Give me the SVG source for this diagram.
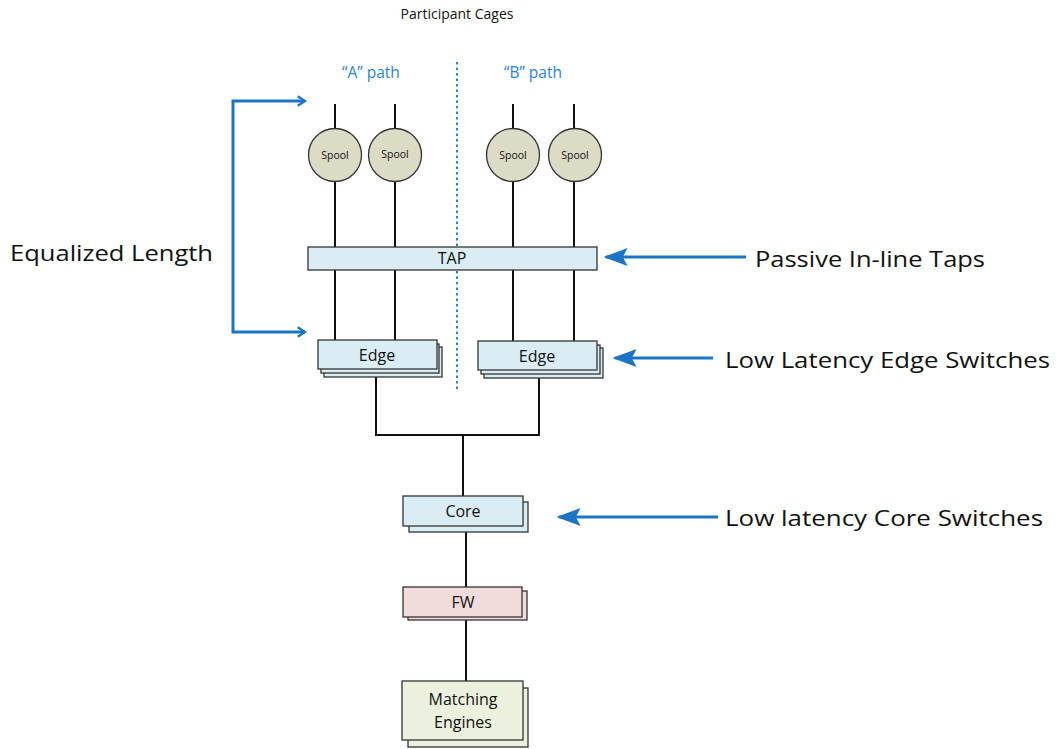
<svg xmlns="http://www.w3.org/2000/svg" width="1058" height="749" viewBox="0 0 1058 749">
<defs>
<marker id="tri" viewBox="0 0 10 10" refX="9" refY="5" markerWidth="8" markerHeight="6" orient="auto-start-reverse" markerUnits="strokeWidth" preserveAspectRatio="none"><path d="M0,0 L10,5 L0,10 L2,5 z" fill="#1b74c5"/></marker>
<marker id="chev" viewBox="0 0 10 10" refX="8" refY="5" markerWidth="4" markerHeight="4" orient="auto-start-reverse" markerUnits="strokeWidth"><path d="M2,1 L8,5 L2,9" fill="none" stroke="#1b74c5" stroke-width="2"/></marker>
</defs>
<style>
text{font-family:"Open Sans","Liberation Sans",sans-serif;fill:#111}
.ln{stroke:#111;stroke-width:2;fill:none}
.box{stroke:#333;stroke-width:1.3}
.blue{fill:#daedf4}
.red{fill:#f2dcdb}
.grn{fill:#ebf1de}
.spool{fill:#dcdcc6;stroke:#333;stroke-width:1.3}
.lbl{font-size:16px;text-anchor:middle}
.big{font-size:22px}
.bl{stroke:#1b74c5;stroke-width:3;fill:none}
.path{fill:#2a84d2;font-size:15.5px;text-anchor:middle}
</style>
<rect width="1058" height="749" fill="#fff"/>
<text x="457" y="19" style="font-size:14px;text-anchor:middle">Participant Cages</text>
<text class="path" x="371" y="78">“A” path</text>
<text class="path" x="533" y="78">“B” path</text>
<line x1="457" y1="62" x2="457" y2="392" stroke="#2a84d2" stroke-width="2" stroke-dasharray="2.5,3"/>

<g id="connectors">
<line class="ln" x1="335" y1="104" x2="335" y2="341"/>
<line class="ln" x1="395" y1="104" x2="395" y2="341"/>
<line class="ln" x1="513" y1="104" x2="513" y2="342"/>
<line class="ln" x1="574" y1="104" x2="574" y2="342"/>
<polyline class="ln" points="376,373 376,435 539,435 539,373"/>
<line class="ln" x1="463" y1="435" x2="463" y2="497"/>
<line class="ln" x1="466" y1="526" x2="466" y2="588"/>
<line class="ln" x1="466" y1="617" x2="466" y2="682"/>
<polyline class="bl" points="305,101 233,101 233,332 305,332" marker-start="url(#chev)" marker-end="url(#chev)"/>
<line class="bl" x1="746" y1="257" x2="606" y2="257" marker-end="url(#tri)"/>
<line class="bl" x1="713" y1="358" x2="615" y2="358" marker-end="url(#tri)"/>
<line class="bl" x1="718" y1="517" x2="559" y2="517" marker-end="url(#tri)"/>
</g>

<g id="spool1"><circle class="spool" cx="335" cy="155" r="26.5"/><text x="335" y="159" style="font-size:10.5px;text-anchor:middle">Spool</text></g>
<g id="spool2"><circle class="spool" cx="395" cy="155" r="26.5"/><text x="395" y="158" style="font-size:10.5px;text-anchor:middle">Spool</text></g>
<g id="spool3"><circle class="spool" cx="513" cy="155" r="26.5"/><text x="513" y="159" style="font-size:10.5px;text-anchor:middle">Spool</text></g>
<g id="spool4"><circle class="spool" cx="575" cy="155" r="26.5"/><text x="575" y="159" style="font-size:10.5px;text-anchor:middle">Spool</text></g>

<g id="tap"><rect class="box blue" x="308" y="247" width="289" height="23"/><text class="lbl" x="452" y="264">TAP</text></g>

<g id="edge1">
<rect class="box blue" x="324" y="347" width="118" height="30"/>
<rect class="box blue" x="321" y="344" width="118" height="29"/>
<rect class="box blue" x="318" y="340" width="119" height="29"/>
<text class="lbl" x="377" y="361">Edge</text>
</g>
<g id="edge2">
<rect class="box blue" x="484" y="348" width="119" height="30"/>
<rect class="box blue" x="481" y="345" width="119" height="29"/>
<rect class="box blue" x="478" y="341" width="119" height="29"/>
<text class="lbl" x="537" y="362">Edge</text>
</g>

<g id="core">
<rect class="box blue" x="409" y="502" width="119" height="30"/>
<rect class="box blue" x="403" y="496" width="120" height="30"/>
<text class="lbl" x="463" y="517">Core</text>
</g>
<g id="fw">
<rect class="box red" x="408" y="591" width="119" height="29"/>
<rect class="box red" x="403" y="587" width="119" height="30"/>
<text class="lbl" x="463" y="608">FW</text>
</g>
<g id="me">
<rect class="box grn" x="408" y="688" width="120" height="59"/>
<rect class="box grn" x="402" y="681" width="121" height="59"/>
<text class="lbl" x="463" y="705">Matching</text>
<text class="lbl" x="463" y="728">Engines</text>
</g>

<text class="big" x="10" y="261" textLength="203" lengthAdjust="spacingAndGlyphs">Equalized Length</text>
<text class="big" x="755" y="267" textLength="230" lengthAdjust="spacingAndGlyphs">Passive In-line Taps</text>
<text class="big" x="725" y="368" textLength="325" lengthAdjust="spacingAndGlyphs">Low Latency Edge Switches</text>
<text class="big" x="725" y="526" textLength="318" lengthAdjust="spacingAndGlyphs">Low latency Core Switches</text>
</svg>
